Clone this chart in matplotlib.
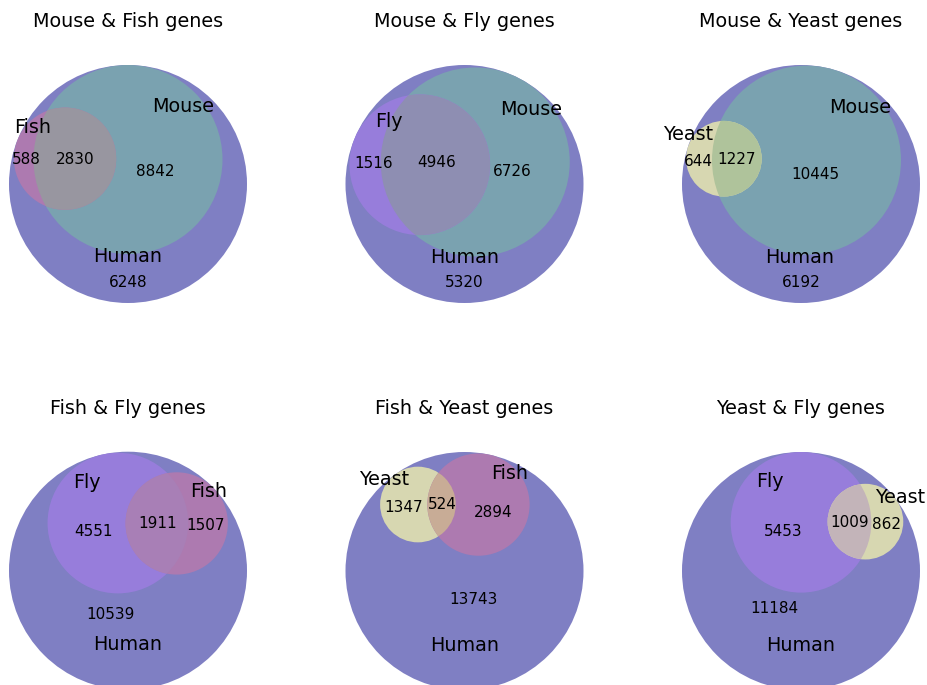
import numpy as np
import matplotlib
matplotlib.use('Agg')
import matplotlib.pyplot as plt
from matplotlib.patches import Circle

# gene counts with a human ortholog, split by which of the two other species share them
titles = ['Mouse & Fish genes', 'Mouse & Fly genes', 'Mouse & Yeast genes',
          'Fish & Fly genes', 'Fish & Yeast genes', 'Yeast & Fly genes']
set_a = ['Mouse', 'Mouse', 'Mouse', 'Fly', 'Yeast', 'Fly']
set_b = ['Fish', 'Fly', 'Yeast', 'Fish', 'Fish', 'Yeast']
human_only = [6248, 5320, 6192, 10539, 13743, 11184]
a_only = [8842, 6726, 10445, 4551, 1347, 5453]
b_only = [588, 1516, 644, 1507, 2894, 862]
both = [2830, 4946, 1227, 1911, 524, 1009]

# region colours (already blended over the human circle)
human_col = '#7f7fc3'
species_col = {'Mouse': '#7aa2b0', 'Fish': '#ad7ab0', 'Fly': '#977ddb', 'Yeast': '#d7d7b1'}
pair_col = {('Mouse', 'Fish'): '#9896a0', ('Mouse', 'Fly'): '#8e8eb2',
            ('Mouse', 'Yeast'): '#afc39b', ('Fly', 'Fish'): '#a87fb6',
            ('Yeast', 'Fish'): '#c8ac96', ('Fly', 'Yeast'): '#c3b4b9'}

# layout: human circle centre in pixels, direction of circle A, side of circle B
W, H = 927, 685
R_PX = 119
centres = [(128, 184), (464.5, 184), (801, 184), (128, 570.7), (464.5, 571), (801, 571)]
angle_a = [90, 64, 77, 102, 125, 90]
side_b = [1, 1, 1, -1, -1, -1]

# label positions in units of the human radius: (A, B, Human) and (A only, B only, both, human only)
set_pos = [[(0.462, 0.655), (-0.798, 0.471), (0, -0.613)],
           [(0.556, 0.628), (-0.632, 0.524), (0, -0.616)],
           [(0.496, 0.644), (-0.947, 0.412), (-0.008, -0.616)],
           [(-0.347, 0.739), (0.675, 0.664), (0, -0.624)],
           [(-0.676, 0.770), (0.377, 0.821), (0, -0.622)],
           [(-0.261, 0.750), (0.832, 0.619), (0, -0.622)]]
num_pos = [[(0.227, 0.101), (-0.857, 0.202), (-0.445, 0.210), (0, -0.824)],
           [(0.402, 0.109), (-0.766, 0.174), (-0.234, 0.182), (0, -0.829)],
           [(0.118, 0.076), (-0.863, 0.193), (-0.540, 0.202), (0, -0.826)],
           [(-0.291, 0.328), (0.653, 0.376), (0.246, 0.398), (-0.143, -0.364)],
           [(-0.508, 0.532), (0.237, 0.493), (-0.187, 0.555), (0.074, -0.238)],
           [(-0.149, 0.330), (0.720, 0.392), (0.412, 0.406), (-0.224, -0.313)]]


def lens_area(r1, r2, d):
    if d >= r1 + r2:
        return 0.0
    if d <= abs(r1 - r2):
        return np.pi * min(r1, r2) ** 2
    a1 = r1 ** 2 * np.arccos((d * d + r1 * r1 - r2 * r2) / (2 * d * r1))
    a2 = r2 ** 2 * np.arccos((d * d + r2 * r2 - r1 * r1) / (2 * d * r2))
    k = np.sqrt((-d + r1 + r2) * (d + r1 - r2) * (d - r1 + r2) * (d + r1 + r2))
    return a1 + a2 - 0.5 * k


def dist_for_area(r1, r2, area):
    lo, hi = abs(r1 - r2), r1 + r2
    for _ in range(60):
        mid = (lo + hi) / 2
        if lens_area(r1, r2, mid) > area:
            lo = mid
        else:
            hi = mid
    return (lo + hi) / 2


fig = plt.figure(figsize=(W / 100, H / 100), dpi=100)

for i in range(6):
    total = human_only[i] + a_only[i] + b_only[i] + both[i]
    ra = np.sqrt((a_only[i] + both[i]) / total)
    rb = np.sqrt((b_only[i] + both[i]) / total)
    # A and B sit inside the human circle, touching its edge
    da, db = 1 - ra, 1 - rb
    dab = dist_for_area(ra, rb, np.pi * both[i] / total)
    cosg = (da * da + db * db - dab * dab) / (2 * da * db)
    gamma = np.degrees(np.arccos(np.clip(cosg, -1, 1)))
    ta = np.radians(angle_a[i])
    tb = np.radians(angle_a[i] + side_b[i] * gamma)
    ca = (da * np.cos(ta), da * np.sin(ta))
    cb = (db * np.cos(tb), db * np.sin(tb))

    cx, cy = centres[i]
    half = 1.1 * R_PX
    ax = fig.add_axes([(cx - half) / W, (H - cy - half) / H, 2 * half / W, 2 * half / H])
    ax.set_xlim(-1.1, 1.1)
    ax.set_ylim(-1.1, 1.1)
    ax.axis('off')

    ax.add_patch(Circle((0, 0), 1, facecolor=human_col, lw=0))
    circ_a = Circle(ca, ra, facecolor=species_col[set_a[i]], lw=0)
    ax.add_patch(circ_a)
    ax.add_patch(Circle(cb, rb, facecolor=species_col[set_b[i]], lw=0))
    inter = Circle(cb, rb, facecolor=pair_col[(set_a[i], set_b[i])], lw=0)
    ax.add_patch(inter)
    inter.set_clip_path(circ_a)

    for name, (x, y) in zip([set_a[i], set_b[i], 'Human'], set_pos[i]):
        ax.text(x, y, name, ha='center', va='center', fontsize=13.8)
    counts = [a_only[i], b_only[i], both[i], human_only[i]]
    for n, (x, y) in zip(counts, num_pos[i]):
        ax.text(x, y, str(n), ha='center', va='center', fontsize=11)

    ax.text(0, 1.365, titles[i], ha='center', va='center', fontsize=13.8)

fig.savefig('out.png', dpi=100)
